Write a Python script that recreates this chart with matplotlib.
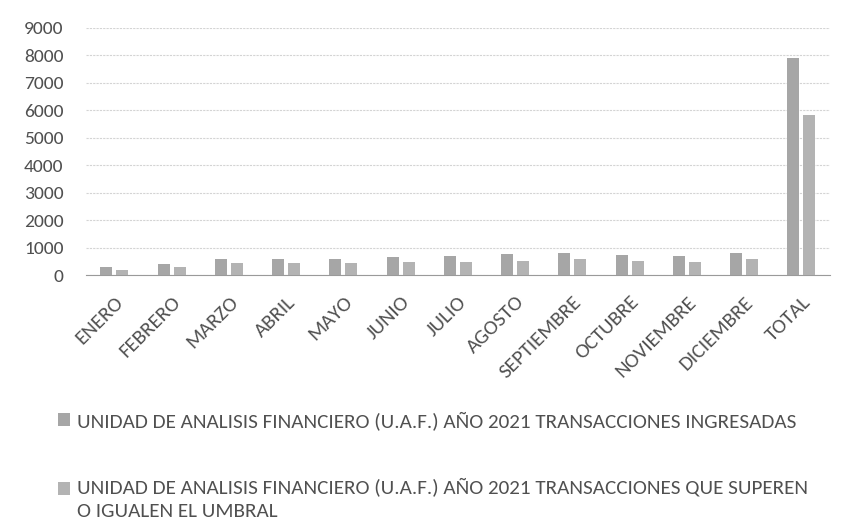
import matplotlib.pyplot as plt
import numpy as np
from matplotlib import font_manager
from matplotlib.legend_handler import HandlerPatch
from matplotlib.patches import Rectangle

# datos
meses = ["ENERO", "FEBRERO", "MARZO", "ABRIL", "MAYO", "JUNIO", "JULIO",
         "AGOSTO", "SEPTIEMBRE", "OCTUBRE", "NOVIEMBRE", "DICIEMBRE", "TOTAL"]
ingresadas = [300, 390, 590, 590, 590, 650, 690, 760, 810, 720, 700, 820, 7900]
umbral = [200, 300, 440, 430, 450, 460, 470, 530, 570, 520, 480, 590, 5820]

serie1 = "UNIDAD DE ANALISIS FINANCIERO (U.A.F.) AÑO 2021 TRANSACCIONES INGRESADAS"
serie2 = "UNIDAD DE ANALISIS FINANCIERO (U.A.F.) AÑO 2021 TRANSACCIONES QUE SUPEREN\nO IGUALEN EL UMBRAL"

disponibles = {f.name for f in font_manager.fontManager.ttflist}
familia = [f for f in ["Carlito", "Lato", "DejaVu Sans"] if f in disponibles]
plt.rcParams['font.family'] = familia

gris_texto = "#505050"

fig = plt.figure(figsize=(8.41, 5.18), dpi=100)
ax = fig.add_axes([0.102, 0.469, 0.885, 0.477])

x = np.arange(len(meses))
ancho = 0.21
barras1 = ax.bar(x - 0.14, ingresadas, ancho, color="#a6a6a6", label=serie1, zorder=3)
barras2 = ax.bar(x + 0.14, umbral, ancho, color="#b3b3b3", label=serie2, zorder=3)

ax.set_xlim(-0.5, len(meses) - 0.5)
ax.set_ylim(0, 9000)
ax.set_yticks(range(0, 9001, 1000))
ax.yaxis.grid(True, color="#d4d4d4", linewidth=0.8, linestyle=(0, (2, 1)), zorder=0)
ax.set_axisbelow(True)

for s in ["top", "right", "left"]:
    ax.spines[s].set_visible(False)
ax.spines["bottom"].set_color("#9a9a9a")

ax.set_xticks(x)
ax.set_xticklabels(meses, rotation=45, ha="right", rotation_mode="anchor")
ax.tick_params(axis="both", length=0, colors=gris_texto, labelsize=14)
ax.tick_params(axis="x", pad=13, labelsize=15)
ax.tick_params(axis="y", pad=16)


# el marcador de la segunda serie va a la altura de la primera linea del texto
def marcador_arriba(legend, orig_handle, xdescent, ydescent, width, height, fontsize):
    return Rectangle((-xdescent, -ydescent + 0.45 * fontsize), width, height)


def copiar_estilo(legend_handle, orig_handle):
    legend_handle.update_from(orig_handle.patches[0])


leyenda = fig.legend(loc="upper left", bbox_to_anchor=(0.069, 0.206), frameon=False,
                     fontsize=15.2, labelcolor=gris_texto, handlelength=0.55, handleheight=0.55,
                     handletextpad=0.35, labelspacing=2.2, borderpad=0, borderaxespad=0,
                     handler_map={barras2: HandlerPatch(patch_func=marcador_arriba,
                                                        update_func=copiar_estilo)})
for t in leyenda.get_texts():
    t.set_linespacing(1.5)

fig.savefig("out.png", dpi=100)
